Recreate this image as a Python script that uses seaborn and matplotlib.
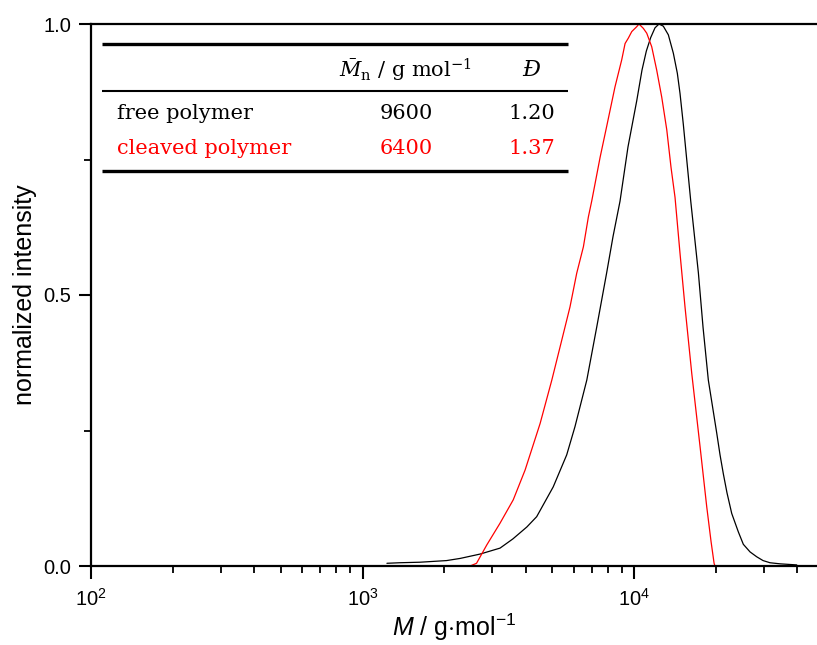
import numpy as np
import pandas as pd
import matplotlib
matplotlib.use("Agg")
import matplotlib.pyplot as plt
from matplotlib.ticker import LogLocator, LogFormatterMathtext, FixedLocator, FixedFormatter
import seaborn as sns

# GPC traces: molar mass (g/mol) and normalized detector intensity
free_M = [1230, 1370, 1630, 2040, 2290, 2710, 3210, 3580, 4030, 4380, 5040,
          5650, 6060, 6700, 7290, 7930, 8370, 8880, 9500, 10230, 10700, 11100,
          11520, 11950, 12360, 12820, 13380, 13960, 14440, 14770, 15190, 16180,
          17260, 17960, 18780, 20170, 20740, 21330, 22000, 22900, 24220, 25270,
          26750, 28310, 29870, 31690, 34510, 39750]
free_I = [0.005, 0.006, 0.007, 0.010, 0.014, 0.022, 0.033, 0.050, 0.072, 0.091,
          0.146, 0.205, 0.257, 0.343, 0.441, 0.541, 0.608, 0.673, 0.773, 0.858,
          0.915, 0.950, 0.975, 0.993, 1.000, 0.996, 0.980, 0.946, 0.909, 0.872,
          0.815, 0.673, 0.541, 0.440, 0.343, 0.245, 0.205, 0.170, 0.135, 0.097,
          0.063, 0.040, 0.026, 0.017, 0.010, 0.006, 0.004, 0.002]

cleaved_M = [2490, 2630, 2870, 3210, 3590, 3970, 4510, 4980, 5420, 5810, 6150,
             6510, 6790, 6990, 7500, 7930, 8510, 9010, 9270, 9530, 9810, 10230,
             10430, 10820, 11140, 11620, 12120, 12650, 13200, 13690, 14160,
             14770, 15410, 16320, 17510, 18530, 19220, 19720, 19860, 22000]
cleaved_I = [0.0, 0.005, 0.039, 0.079, 0.122, 0.177, 0.263, 0.343, 0.417, 0.478,
             0.540, 0.589, 0.644, 0.674, 0.754, 0.811, 0.884, 0.934, 0.964,
             0.974, 0.986, 0.995, 1.000, 0.992, 0.983, 0.958, 0.915, 0.865,
             0.805, 0.735, 0.680, 0.577, 0.478, 0.355, 0.220, 0.109, 0.045,
             0.005, 0.0, 0.0]

# Inset table
table_rows = ["free polymer", "cleaved polymer"]
table_Mn = ["9600", "6400"]
table_D = ["1.20", "1.37"]
row_colors = ["black", "#ff0000"]

sns.set_theme(style="ticks")
plt.rcParams["font.family"] = ["Liberation Sans", "DejaVu Sans"]
plt.rcParams["mathtext.fontset"] = "custom"
plt.rcParams["mathtext.rm"] = "Liberation Sans"
plt.rcParams["mathtext.it"] = "Liberation Sans:italic"
plt.rcParams["mathtext.bf"] = "Liberation Sans:bold"

fig = plt.figure(figsize=(8.17, 6.45), dpi=100)
ax = fig.add_axes([91 / 817, 79 / 645, 726 / 817, 542 / 645])

df_free = pd.DataFrame({"M": free_M, "I": free_I})
df_cleaved = pd.DataFrame({"M": cleaved_M, "I": cleaved_I})
sns.lineplot(data=df_free, x="M", y="I", ax=ax, color="black", lw=0.9,
             sort=False, estimator=None)
sns.lineplot(data=df_cleaved, x="M", y="I", ax=ax, color="#ff0000", lw=0.9,
             sort=False, estimator=None)

ax.set_xscale("log")
ax.set_xlim(100, 47200)
ax.set_ylim(0, 1.0)

ax.xaxis.set_major_locator(LogLocator(base=10, numticks=10))
ax.xaxis.set_major_formatter(LogFormatterMathtext())
ax.xaxis.set_minor_locator(LogLocator(base=10, subs=np.arange(2, 10), numticks=20))
ax.xaxis.set_minor_formatter(plt.NullFormatter())

ax.yaxis.set_major_locator(FixedLocator([0.0, 0.5, 1.0]))
ax.yaxis.set_major_formatter(FixedFormatter(["0.0", "0.5", "1.0"]))
ax.yaxis.set_minor_locator(FixedLocator([0.25, 0.75]))

ax.tick_params(axis="both", which="major", direction="out", length=9, width=1.5,
               labelsize=14.5, color="black", labelcolor="black")
ax.tick_params(axis="x", which="major", pad=7)
ax.tick_params(axis="y", which="major", pad=5)
ax.tick_params(axis="both", which="minor", direction="out", length=5, width=1.3,
               color="black")

for side in ["left", "bottom", "top"]:
    ax.spines[side].set_linewidth(1.6)
    ax.spines[side].set_color("black")
ax.spines["right"].set_visible(False)

ax.set_xlabel(r"$\it{M}$ / g$\cdot$mol$^{-1}$", fontsize=18, color="black", labelpad=1)
ax.set_ylabel("normalized intensity", fontsize=18, color="black", labelpad=5)
ax.grid(False)

# Inset table drawn in axes coordinates
tr = ax.transAxes
x0, x1 = (102 - 91) / 726, (568 - 91) / 726
for yv, lw in [(0.963, 2.4), (0.876, 1.5), (0.729, 2.4)]:
    ax.plot([x0, x1], [yv, yv], transform=tr, color="black", lw=lw,
            solid_capstyle="butt", clip_on=False)

serif = ["DejaVu Serif"]
fs = 15
ax.text(0.433, 0.915, r"$\bar{M}_\mathrm{n}$ / g mol$^{\mathrm{-1}}$", transform=tr,
        ha="center", va="center", fontsize=fs, family=serif,
        math_fontfamily="dejavuserif", color="black")
ax.text(0.607, 0.915, "Đ", transform=tr, ha="center", va="center", fontsize=fs + 1,
        family=serif, style="italic", color="black")
for i, (name, mn, d, c) in enumerate(zip(table_rows, table_Mn, table_D, row_colors)):
    yv = 0.834 - i * 0.063
    ax.text(0.036, yv, name, transform=tr, ha="left", va="center", fontsize=fs,
            family=serif, color=c)
    ax.text(0.434, yv, mn, transform=tr, ha="center", va="center", fontsize=fs,
            family=serif, color=c)
    ax.text(0.607, yv, d, transform=tr, ha="center", va="center", fontsize=fs,
            family=serif, color=c)

fig.savefig("out.png", dpi=100)
